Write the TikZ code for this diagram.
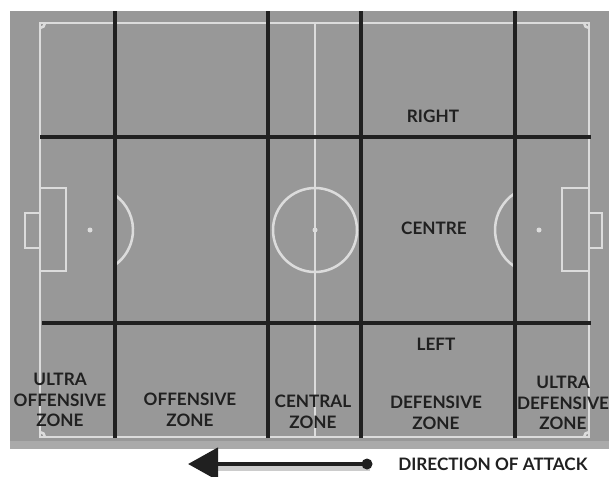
\documentclass[tikz,border=0pt]{standalone}
\usepackage{fontspec}
\setmainfont{Lato}
\usetikzlibrary{arrows.meta, positioning}
\definecolor{pitchgrey}{RGB}{152,152,152}
\definecolor{rimgrey}{RGB}{170,170,170}
\definecolor{chalk}{RGB}{220,220,220}
\definecolor{zoneink}{RGB}{32,32,32}

\begin{document}
\begin{tikzpicture}[
    x=0.025cm, y=-0.025cm,
    chalk line/.style={draw=chalk, line width=1.8pt},
    zone line/.style={draw=zoneink, line width=2.6pt},
    zone label/.style={font=\bfseries\fontsize{12.2}{14.6}\selectfont, text=zoneink, align=center, inner sep=0pt},
    attack arrow/.style={draw=zoneink, line width=3.4pt, -{Triangle[length=0.75cm, width=0.8cm]}}
]
    \useasboundingbox (0,0) rectangle (609,476);
    % turf
    \fill[pitchgrey] (10,11) rectangle (609,449);
    \fill[rimgrey] (10,441) rectangle (609,449);

    % pitch markings
    \draw[chalk line] (40,23) rectangle (589,437);
    \draw[chalk line] (315,23) -- (315,437);
    \draw[chalk line] (315,230) circle[radius=42];
    \fill[chalk] (315,230) circle[radius=2.5];
    % left end
    \draw[chalk line] (40,188) rectangle (66,271);
    \draw[chalk line] (40,213) -- (25,213) -- (25,248) -- (40,248);
    \fill[chalk] (90,230) circle[radius=2.5];
    \draw[chalk line] ([shift={(-54:43)}]90,230) arc[start angle=-54, end angle=54, radius=43];
    % right end
    \draw[chalk line] (589,188) -- (562,188) -- (562,271) -- (589,271);
    \draw[chalk line] (589,213) -- (602,213) -- (602,248) -- (589,248);
    \fill[chalk] (539,230) circle[radius=2.5];
    \draw[chalk line] ([shift={(124:44)}]539,230) arc[start angle=124, end angle=236, radius=44];
    % corners
    \draw[chalk line] (45,23) arc[start angle=0, end angle=90, radius=5];
    \draw[chalk line] (584,23) arc[start angle=180, end angle=90, radius=5];
    \draw[chalk line] (40,432) arc[start angle=270, end angle=360, radius=5];
    \draw[chalk line] (584,437) arc[start angle=180, end angle=270, radius=5];

    % zone grid
    \foreach \xcut in {115,268,361,515}
        \draw[zone line] (\xcut,11) -- (\xcut,438);
    \draw[zone line] (40,137) -- (591,137);
    \draw[zone line] (42,323) -- (591,323);

    % channel labels
    \node[zone label] (right)  at (433,116) {RIGHT};
    \node[zone label] (centre) at (434,228) {CENTRE};
    \node[zone label] (left)   at (436,344) {LEFT};

    % zone labels
    \node[zone label] (ultraoff) at (60,400)  {ULTRA\\OFFENSIVE\\ZONE};
    \node[zone label] (offzone)  at (190,410) {OFFENSIVE\\ZONE};
    \node[zone label] (cenzone)  at (313,412) {CENTRAL\\ZONE};
    \node[zone label] (defzone)  at (436,413) {DEFENSIVE\\ZONE};
    \node[zone label] (ultradef) at (563,403) {ULTRA\\DEFENSIVE\\ZONE};

    % direction of attack
    \coordinate (tail) at (367,464);
    \coordinate (tip)  at (188,464);
    \draw[gray!40, line width=4pt] ([shift={(3,4)}]tail) -- ([shift={(30,4)}]tip);
    \draw[attack arrow] (tail) -- (tip);
    \fill[zoneink] (tail) circle[radius=5.5];
    \node[zone label, anchor=west] (attack) at (398,464) {DIRECTION OF ATTACK};
\end{tikzpicture}
\end{document}
